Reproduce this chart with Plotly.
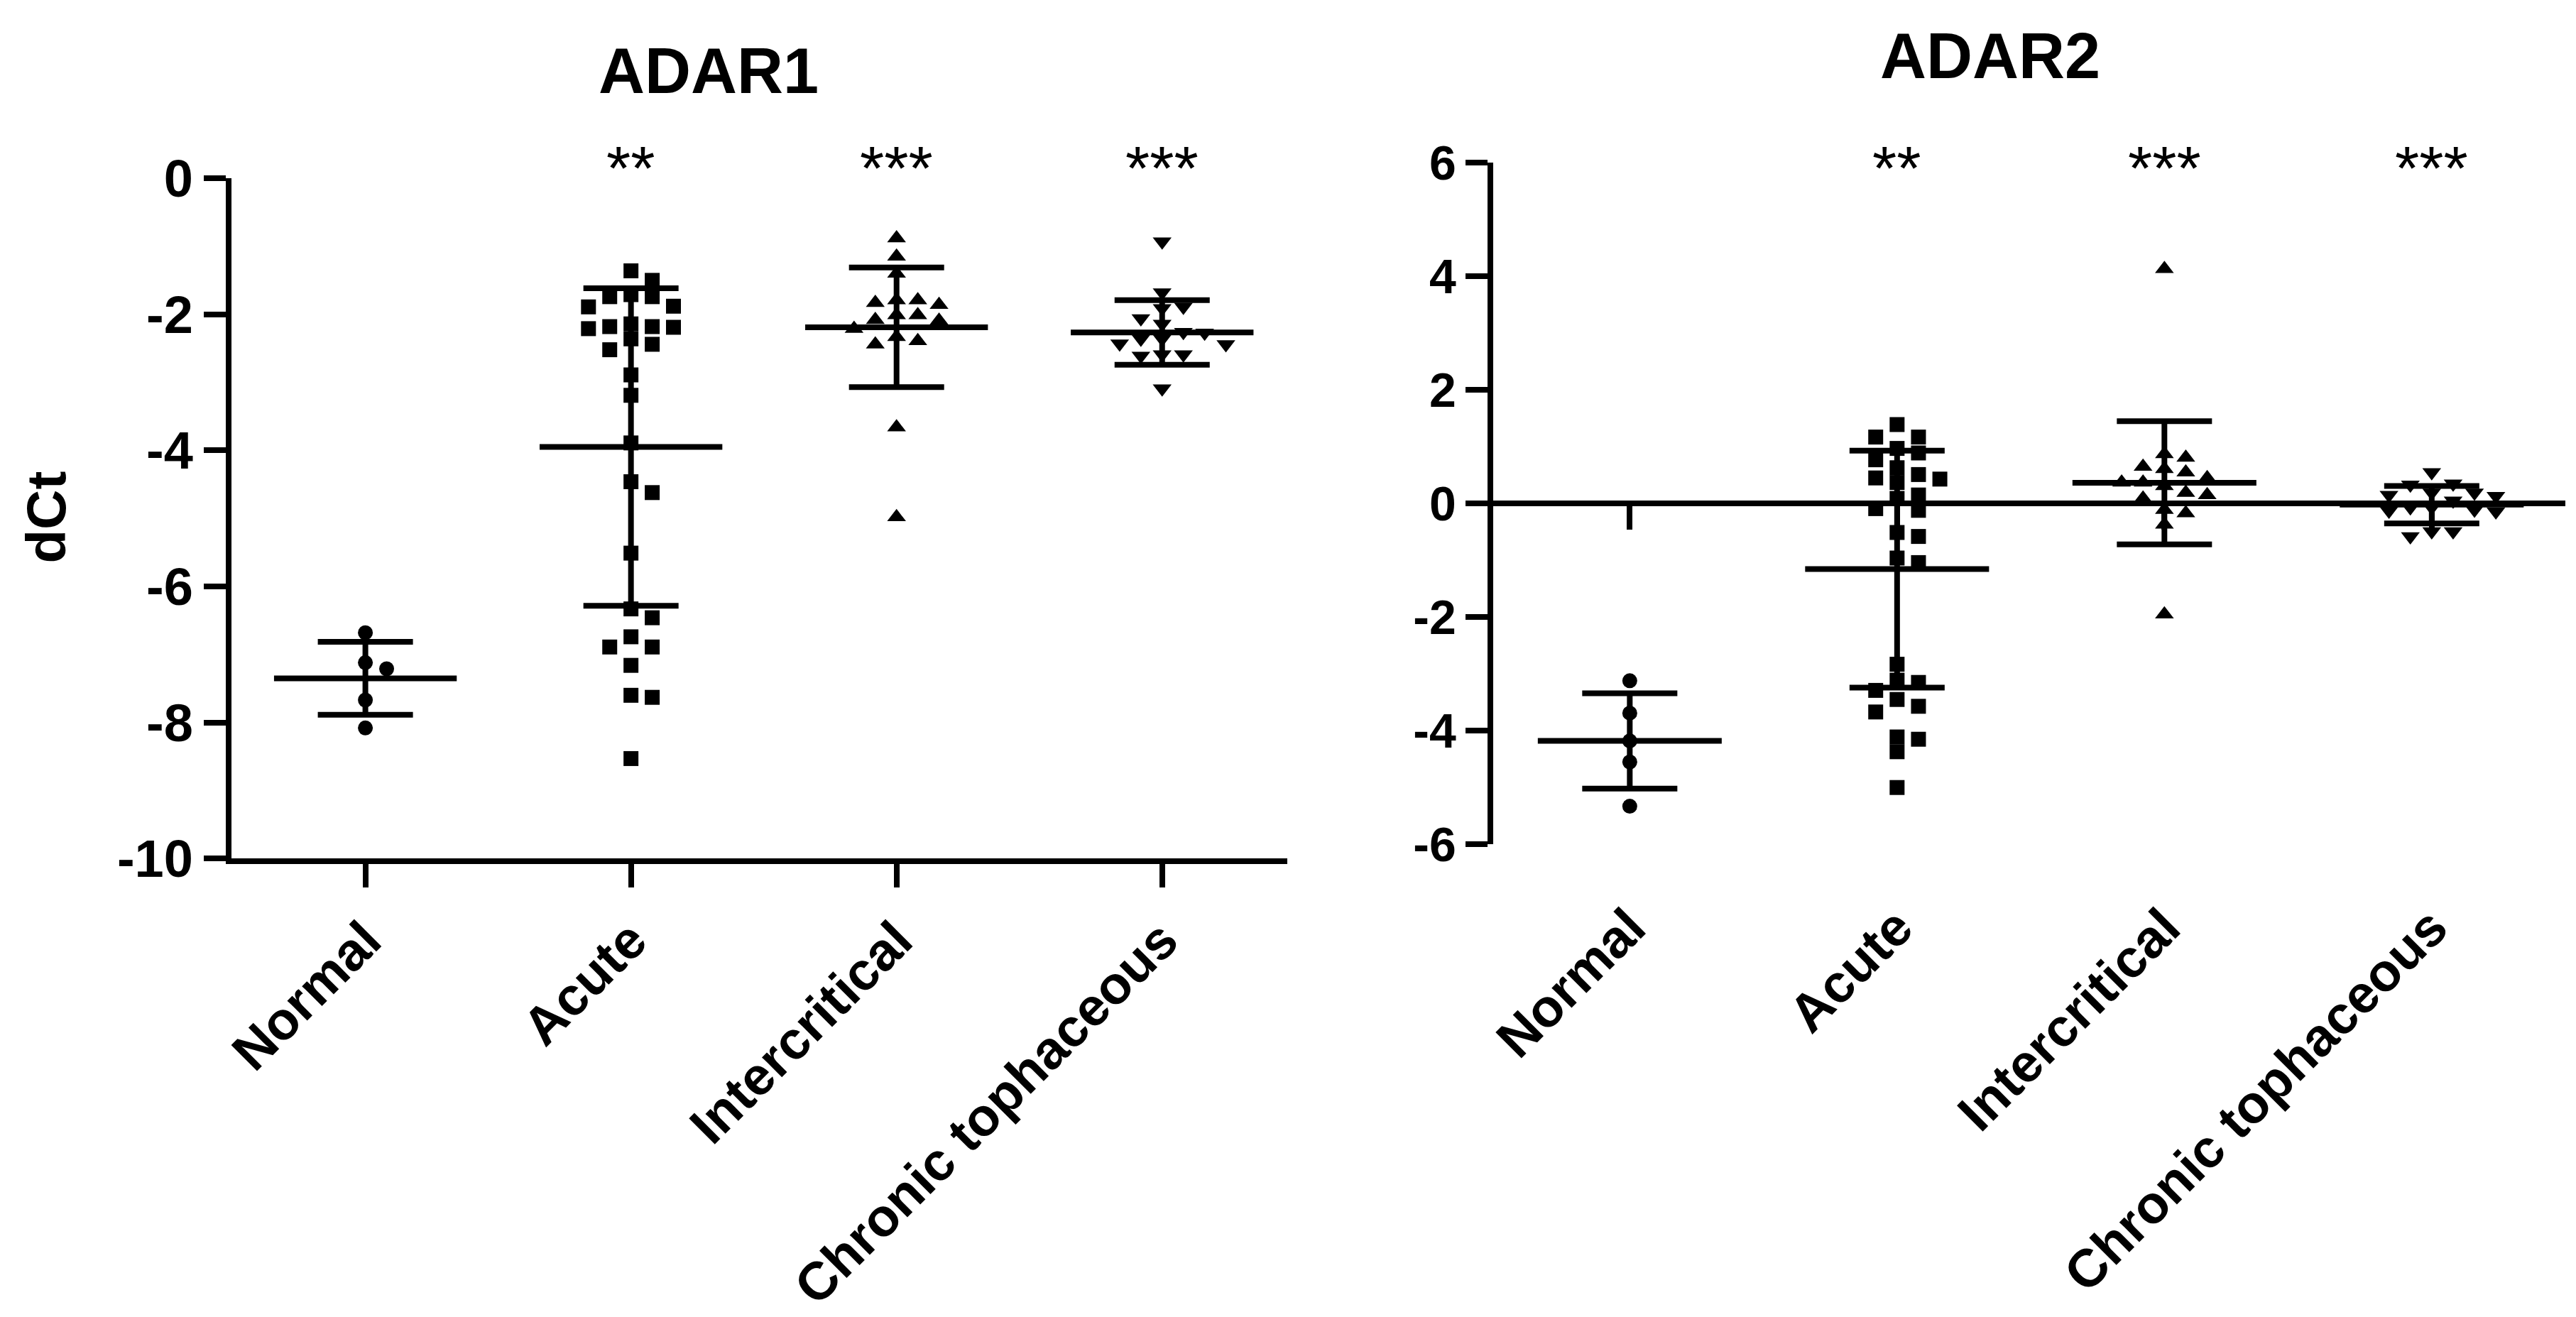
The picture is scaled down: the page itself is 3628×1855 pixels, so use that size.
import plotly.graph_objects as go

# group names and significance marks
categories = ['Normal', 'Acute', 'Intercritical', 'Chronic tophaceous']
stars = ['', '**', '***', '***']

# ADAR1 dCt values
adar1_normal = [-6.68, -7.12, -7.21, -7.67, -8.08]
adar1_acute = [-1.36, -1.50, -1.71, -1.89, -1.74, -1.74, -1.88, -2.21, -2.18, -2.19,
               -2.18, -2.36, -2.14, -2.44, -2.52, -2.89, -3.19, -3.89, -4.46, -4.62,
               -5.51, -6.33, -6.46, -6.74, -6.89, -6.89, -7.16, -7.60, -7.63, -8.53]
adar1_inter = [-0.88, -1.15, -1.40, -1.79, -1.79, -1.86, -1.83, -2.01, -2.01, -2.09,
               -2.21, -2.08, -2.39, -2.33, -2.44, -3.66, -4.98]
adar1_chronic = [-0.93, -1.68, -1.91, -1.89, -2.06, -2.14, -2.26, -2.44, -2.36, -2.36,
                 -2.27, -2.43, -2.59, -2.59, -2.61, -3.09]
adar1_mean = [-7.35, -3.95, -2.19, -2.265]
adar1_sd = [0.535, 2.335, 0.88, 0.475]

# ADAR2 dCt values
adar2_normal = [-3.12, -3.69, -4.18, -4.55, -5.33]
adar2_acute = [1.39, 1.17, 1.17, 0.97, 0.89, 0.77, 0.63, 0.45, 0.37, 0.43,
               0.51, 0.15, 0.09, -0.09, -0.12, -0.51, -0.58, -0.96, -1.04, -2.83,
               -3.11, -3.15, -3.45, -3.29, -3.57, -3.67, -4.15, -4.11, -4.37, -5.00]
adar2_inter = [4.13, 0.81, 0.87, 0.61, 0.55, 0.65, 0.45, 0.37, 0.37, 0.31,
               0.19, 0.09, 0.15, -0.11, -0.17, -0.37, -1.95]
adar2_chronic = [0.55, 0.33, 0.35, 0.13, 0.05, 0.19, 0.15, 0.19, -0.07, -0.13,
                 -0.14, -0.11, -0.07, -0.49, -0.58, -0.49]
adar2_mean = [-4.18, -1.155, 0.365, -0.02]
adar2_sd = [0.84, 2.085, 1.085, 0.33]

# tick labels
y1_ticks = [0, -2, -4, -6, -8, -10]
y2_ticks = [6, 4, 2, 0, -2, -4, -6]

W, H = 3628, 1855
FONT = 'Liberation Sans, Arial, sans-serif'
LW = 8
symbols = ['circle', 'square', 'triangle-up', 'triangle-down']
msizes = [21, 21, 23, 23]


def swarm(values, slot_w, thr, max_k=3):
    # greedy dot-plot spread: first free column, centre first then right/left;
    # if every column is taken, use the one with the most room
    order = sorted(range(len(values)), key=lambda i: -values[i])
    used = {}
    offs = [0.0] * len(values)
    cand = [0]
    for k in range(1, max_k + 1):
        cand += [k, -k]
    for i in order:
        v = values[i]

        def room(s):
            return min([abs(v - u) for u in used.get(s, [])] + [99])

        pick = None
        for s in cand:
            if room(s) >= thr:
                pick = s
                break
        if pick is None:
            pick = max(cand, key=room)
        used.setdefault(pick, []).append(v)
        offs[i] = pick * slot_w
    return offs


# panel geometry (paper fractions)
x1_dom = [312 / W, 1805 / W]
y1_dom = [1 - 1223 / H, 1 - 220 / H]
x2_dom = [2097 / W, 3613 / W]
y2_dom = [1 - 1202 / H, 1 - 197 / H]
x1_rng = [-0.505, 3.47]
x2_rng = [-0.51, 3.5]

fig = go.Figure()

panels = [
    ([adar1_normal, adar1_acute, adar1_inter, adar1_chronic], adar1_mean, adar1_sd,
     'x', 'y', 'x', (1223 - 220) / 10.0),
    ([adar2_normal, adar2_acute, adar2_inter, adar2_chronic], adar2_mean, adar2_sd,
     'x2', 'y2', 'x3', (1202 - 197) / 12.0),
]

for groups, means, sds, xa, ya, xbar, px_unit in panels:
    thr = 21.5 / px_unit
    for i, vals in enumerate(groups):
        offs = swarm(vals, 0.08, thr)
        fig.add_trace(go.Scatter(
            x=[i + o for o in offs], y=vals, mode='markers',
            marker=dict(symbol=symbols[i], size=msizes[i], color='black',
                        line=dict(width=0)),
            xaxis=xa, yaxis=ya, showlegend=False, cliponaxis=False,
        ))
    # mean line with SD whiskers
    fig.add_trace(go.Scatter(
        x=list(range(len(means))), y=means, mode='markers',
        marker=dict(size=1, color='rgba(0,0,0,0)'),
        error_y=dict(type='data', array=sds, width=67, thickness=LW, color='black'),
        error_x=dict(type='constant', value=0.344, width=0, thickness=LW, color='black'),
        xaxis=xbar, yaxis=ya, showlegend=False, cliponaxis=False,
    ))

tickfont1 = dict(family=FONT, size=74, color='black', weight='bold')
tickfont2 = dict(family=FONT, size=68, color='black', weight='bold')
catfont = dict(family=FONT, size=75, color='black', weight='bold')

fig.update_layout(
    width=W, height=H,
    margin=dict(l=0, r=0, t=0, b=0),
    paper_bgcolor='white', plot_bgcolor='white',
    xaxis=dict(domain=x1_dom, range=x1_rng, anchor='y',
               tickvals=list(range(4)), ticktext=categories, tickangle=-45,
               ticks='outside', ticklen=33, tickwidth=LW, tickcolor='black',
               showline=True, linewidth=LW, linecolor='black',
               showgrid=False, zeroline=False, tickfont=catfont),
    yaxis=dict(domain=y1_dom, range=[-10, 0], anchor='x',
               tickvals=y1_ticks, ticktext=[str(t) for t in y1_ticks],
               ticks='outside', ticklen=31, tickwidth=LW, tickcolor='black',
               showline=True, linewidth=LW, linecolor='black',
               showgrid=False, zeroline=False, tickfont=tickfont1),
    xaxis2=dict(domain=x2_dom, range=x2_rng, anchor='y2',
                tickvals=list(range(4)), ticktext=categories, tickangle=-45,
                ticks='outside', ticklen=42, tickwidth=1, tickcolor='rgba(0,0,0,0)',
                showline=False, showgrid=False, zeroline=False, tickfont=catfont),
    xaxis3=dict(domain=x2_dom, range=x2_rng, overlaying='x2', anchor='free',
                position=y2_dom[0] + 0.5 * (y2_dom[1] - y2_dom[0]),
                tickvals=list(range(4)), showticklabels=False,
                ticks='outside', ticklen=33, tickwidth=LW, tickcolor='black',
                showline=True, linewidth=LW, linecolor='black',
                showgrid=False, zeroline=False),
    yaxis2=dict(domain=y2_dom, range=[-6, 6], anchor='x2',
                tickvals=y2_ticks, ticktext=[str(t) for t in y2_ticks],
                ticks='outside', ticklen=31, tickwidth=LW, tickcolor='black',
                showline=True, linewidth=LW, linecolor='black',
                showgrid=False, zeroline=False, tickfont=tickfont2),
)

# panel titles and y title
fig.add_annotation(text='ADAR1', x=987 / W, y=1 - 62 / H, xref='paper', yref='paper',
                   showarrow=False, xanchor='center', yanchor='middle',
                   font=dict(family=FONT, size=90, color='black', weight='bold'))
fig.add_annotation(text='ADAR2', x=2800 / W, y=1 - 40 / H, xref='paper', yref='paper',
                   showarrow=False, xanchor='center', yanchor='middle',
                   font=dict(family=FONT, size=90, color='black', weight='bold'))
fig.add_annotation(text='dCt', x=50 / W, y=1 - 720 / H, xref='paper', yref='paper',
                   showarrow=False, textangle=-90, xanchor='center', yanchor='middle',
                   font=dict(family=FONT, size=78, color='black', weight='bold'))

# significance stars above each group
for xa in ['x', 'x2']:
    for i, s in enumerate(stars):
        if s:
            fig.add_annotation(text=s, x=i, y=1 - 205 / H, xref=xa, yref='paper',
                               showarrow=False, xanchor='center', yanchor='middle',
                               font=dict(family=FONT, size=88, color='black'))

# drop the default page margin so the figure sits flush in the window
fig.write_html('out.html', config={'displayModeBar': False},
               post_script="document.body.style.margin='0';")
